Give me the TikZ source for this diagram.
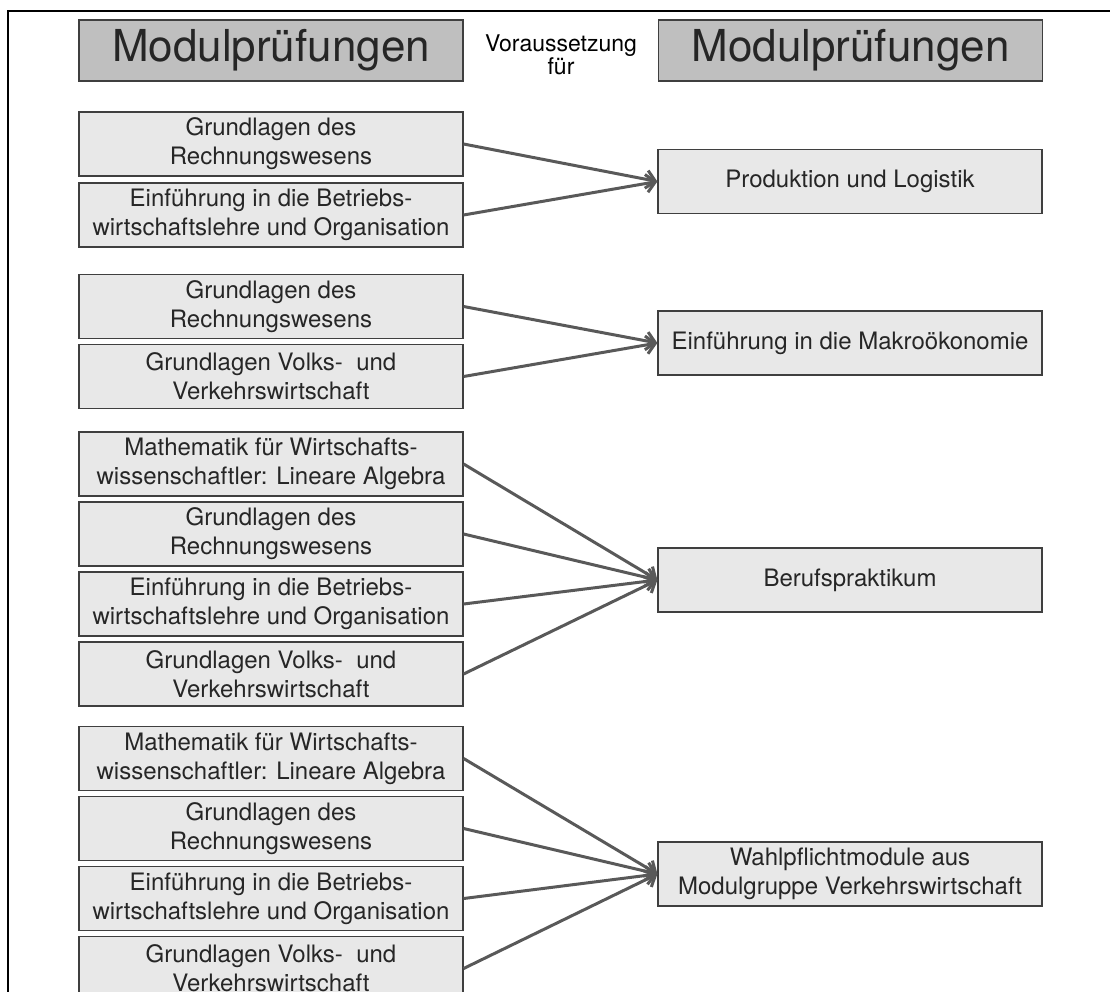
\documentclass[tikz,border=0pt]{standalone}
\usepackage{fontspec}
\setmainfont{TeX Gyre Heros}
\usetikzlibrary{arrows.meta}
\definecolor{hdrfill}{HTML}{BFBFBF}
\definecolor{boxfill}{HTML}{E8E8E8}
\definecolor{boxline}{HTML}{3F3F3F}
\definecolor{arrowcol}{HTML}{595959}
\begin{document}
\begin{tikzpicture}[x=1pt,y=-1pt,
  hdr/.style={draw=boxline, line width=1.2pt, fill=hdrfill, minimum width=384pt, minimum height=61pt, inner sep=0pt, font=\fontsize{44}{50}\selectfont, text=black!85},
  mod/.style={draw=boxline, line width=1.2pt, fill=boxfill, minimum width=384pt, minimum height=64pt, inner sep=0pt, align=center, font=\fontsize{24}{29}\selectfont, text=black!85},
  arr/.style={draw=arrowcol, line width=3pt, -{Straight Barb[length=9pt,width=18pt]}}]
\clip (0,0) rectangle (1110,991);
\draw[line width=2pt] (8,1000) -- (8,11) -- (1120,11);

% headers
\node[hdr] (hl) at (271,50.5) {Modulprüfungen};
\node[hdr] (hr) at (850.5,50.5) {Modulprüfungen};
\node[align=center, font=\fontsize{23}{21}\selectfont, inner sep=0pt] (vf) at (561,55) {Voraussetzung\\für};

% group 1
\node[mod] (a1) at (271,144) {Grundlagen des\\Rechnungswesens};
\node[mod] (a2) at (271,215) {Einführung in die Betriebs-\\wirtschaftslehre und Organisation};
\node[mod] (at) at (850,181.5) {Produktion und Logistik};
\draw[arr] (a1.east) -- (at.west);
\draw[arr] (a2.east) -- (at.west);

% group 2
\node[mod] (b1) at (271,306.5) {Grundlagen des\\Rechnungswesens};
\node[mod] (b2) at (271,376.5) {Grundlagen Volks-~ und\\Verkehrswirtschaft};
\node[mod] (bt) at (850,343) {Einführung in die Makroökonomie};
\draw[arr] (b1.east) -- (bt.west);
\draw[arr] (b2.east) -- (bt.west);

% group 3
\node[mod] (c1) at (271,464) {Mathematik für Wirtschafts-\\wissenschaftler: Lineare Algebra};
\node[mod] (c2) at (271,534) {Grundlagen des\\Rechnungswesens};
\node[mod] (c3) at (271,604) {Einführung in die Betriebs-\\wirtschaftslehre und Organisation};
\node[mod] (c4) at (271,674) {Grundlagen Volks-~ und\\Verkehrswirtschaft};
\node[mod] (ct) at (850,580) {Berufspraktikum};
\foreach \s in {c1,c2,c3,c4} \draw[arr] (\s.east) -- (ct.west);

% group 4
\node[mod] (d1) at (271,758.5) {Mathematik für Wirtschafts-\\wissenschaftler: Lineare Algebra};
\node[mod] (d2) at (271,828.5) {Grundlagen des\\Rechnungswesens};
\node[mod] (d3) at (271,898.5) {Einführung in die Betriebs-\\wirtschaftslehre und Organisation};
\node[mod] (d4) at (271,968.5) {Grundlagen Volks-~ und\\Verkehrswirtschaft};
\node[mod] (dt) at (850,874) {Wahlpflichtmodule aus\\Modulgruppe Verkehrswirtschaft};
\foreach \s in {d1,d2,d3,d4} \draw[arr] (\s.east) -- (dt.west);
\end{tikzpicture}
\end{document}
